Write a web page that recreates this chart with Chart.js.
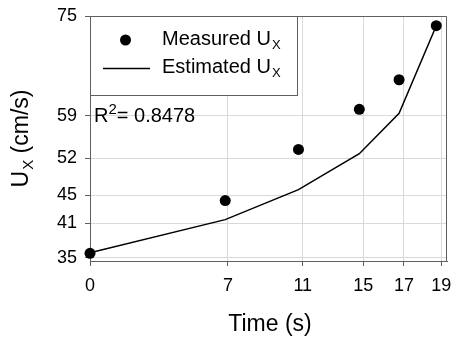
<!DOCTYPE html>
<html>
<head>
<meta charset="utf-8">
<script src="https://cdn.jsdelivr.net/npm/chart.js@4.4.0/dist/chart.umd.min.js"></script>
<style>
    html, body { margin: 0; padding: 0; background: #fff; }
    #wrap { width: 456px; height: 339px; }
</style>
</head>
<body>
<div id="wrap"><canvas id="uxChart" width="456" height="339"></canvas></div>
<script>
const times = [0, 7.31, 11.27, 14.56, 16.71, 18.72];
const measuredU = [35.73, 44.57, 53.12, 59.83, 64.78, 73.83];
const estimatedU = [35.83, 41.37, 46.4, 52.4, 59.17, 73.83];

// ticks sit at the real values, labelled with rounded numbers
const xTickValues = [0, 7.46, 11.5, 14.77, 16.97, 18.99];
const xTickLabels = ['0', '7', '11', '15', '17', '19'];
const yTickValues = [35, 40.73, 45.45, 51.62, 58.78, 75.45];
const yTickLabels = ['35', '41', '45', '52', '59', '75'];

const rSquared = '0.8478';

const FONT = '"Liberation Sans", Arial, sans-serif';
const AXIS_COLOR = '#606060';
const GRID_COLOR = '#d9d9d9';

// text with a subscript, e.g. U_X
const drawSub = (ctx, main, sub, x, y, size) => {
    ctx.font = size + 'px ' + FONT;
    ctx.fillText(main, x, y);
    const w = ctx.measureText(main).width;
    ctx.font = Math.round(size * 0.65) + 'px ' + FONT;
    ctx.fillText(sub, x + w + 1, y + size * 0.22);
};

const subWidth = (ctx, main, sub, size) => {
    ctx.font = size + 'px ' + FONT;
    const w = ctx.measureText(main).width;
    ctx.font = Math.round(size * 0.65) + 'px ' + FONT;
    return w + 1 + ctx.measureText(sub).width;
};

const extras = {
    id: 'extras',
    afterDraw(chart) {
        const ctx = chart.ctx;
        const a = chart.chartArea;
        ctx.save();

        // top and right frame
        ctx.strokeStyle = AXIS_COLOR;
        ctx.lineWidth = 1;
        ctx.beginPath();
        ctx.moveTo(a.left, a.top + 0.5);
        ctx.lineTo(a.right - 0.5, a.top + 0.5);
        ctx.lineTo(a.right - 0.5, a.bottom);
        ctx.stroke();

        // legend box
        const lx = a.left, ly = a.top, lw = 207, lh = 79;
        ctx.fillStyle = '#fff';
        ctx.fillRect(lx, ly, lw, lh);
        ctx.strokeRect(lx + 0.5, ly + 0.5, lw, lh);

        ctx.fillStyle = '#000';
        ctx.beginPath();
        ctx.arc(lx + 35.5, ly + 24, 5.5, 0, Math.PI * 2);
        ctx.fill();
        ctx.strokeStyle = '#000';
        ctx.lineWidth = 1.5;
        ctx.beginPath();
        ctx.moveTo(lx + 13, ly + 52.5);
        ctx.lineTo(lx + 60, ly + 52.5);
        ctx.stroke();

        ctx.textAlign = 'left';
        ctx.textBaseline = 'alphabetic';
        drawSub(ctx, 'Measured U', 'X', lx + 72, ly + 29, 20);
        drawSub(ctx, 'Estimated U', 'X', lx + 72, ly + 57, 20);

        // R squared
        ctx.font = '20px ' + FONT;
        ctx.fillText('R', a.left + 4, 122);
        let rx = a.left + 4 + ctx.measureText('R').width;
        ctx.font = '15px ' + FONT;
        ctx.fillText('2', rx, 114);
        rx += ctx.measureText('2').width;
        ctx.font = '20px ' + FONT;
        ctx.fillText('= ' + rSquared, rx, 122);

        // axis titles
        const tw = subWidth(ctx, 'Time (s)', '', 23);
        ctx.font = '23px ' + FONT;
        ctx.fillText('Time (s)', (a.left + a.right) / 2 - tw / 2 + 2, 331);

        ctx.translate(28, (a.top + a.bottom) / 2);
        ctx.rotate(-Math.PI / 2);
        const uw = subWidth(ctx, 'U', 'X', 23);
        ctx.font = '23px ' + FONT;
        const pw = ctx.measureText(' (cm/s)').width;
        const start = -(uw + pw) / 2;
        drawSub(ctx, 'U', 'X', start, 0, 23);
        ctx.font = '23px ' + FONT;
        ctx.fillText(' (cm/s)', start + uw, 0);

        ctx.restore();
    }
};

const renderUxChart = () => {
    const ctx = document.getElementById('uxChart').getContext('2d');
    const measured = times.map((t, i) => ({ x: t, y: measuredU[i] }));
    const estimated = times.map((t, i) => ({ x: t, y: estimatedU[i] }));

    new Chart(ctx, {
        type: 'scatter',
        data: {
            datasets: [{
                label: 'Measured Ux',
                data: measured,
                showLine: false,
                pointRadius: 5.5,
                pointBackgroundColor: '#000',
                pointBorderWidth: 0,
                clip: false,
                order: 1,
            }, {
                label: 'Estimated Ux',
                data: estimated,
                showLine: true,
                borderColor: '#000',
                borderWidth: 1.5,
                pointRadius: 0,
                tension: 0,
                clip: false,
                order: 2,
            }],
        },
        options: {
            responsive: false,
            animation: false,
            events: [],
            layout: { padding: { top: 16, right: 9, left: 0, bottom: 0 } },
            plugins: {
                legend: { display: false },
                tooltip: { enabled: false },
            },
            scales: {
                x: {
                    type: 'linear',
                    min: 0,
                    max: 19.3,
                    afterBuildTicks: (scale) => {
                        scale.ticks = xTickValues.map((v) => ({ value: v }));
                    },
                    afterFit: (scale) => {
                        scale.height = 78;
                        scale.paddingLeft = 0;
                        scale.paddingRight = 0;
                    },
                    ticks: {
                        autoSkip: false,
                        maxRotation: 0,
                        padding: 9,
                        color: '#000',
                        font: { family: FONT, size: 18 },
                        callback: (value, index) => xTickLabels[index],
                    },
                    grid: {
                        color: GRID_COLOR,
                        tickLength: 5,
                        tickColor: AXIS_COLOR,
                    },
                    border: { display: true, color: AXIS_COLOR, width: 1 },
                },
                y: {
                    type: 'linear',
                    min: 34.45,
                    max: 75.45,
                    afterBuildTicks: (scale) => {
                        scale.ticks = yTickValues.map((v) => ({ value: v }));
                    },
                    afterFit: (scale) => {
                        scale.width = 90;
                        scale.paddingTop = 0;
                        scale.paddingBottom = 0;
                    },
                    ticks: {
                        autoSkip: false,
                        padding: 8,
                        color: '#000',
                        font: { family: FONT, size: 18 },
                        callback: (value, index) => yTickLabels[index],
                    },
                    grid: {
                        color: GRID_COLOR,
                        tickLength: 5,
                        tickColor: AXIS_COLOR,
                    },
                    border: { display: true, color: AXIS_COLOR, width: 1 },
                },
            },
        },
        plugins: [extras],
    });
};

window.addEventListener('load', renderUxChart);
</script>
</body>
</html>
